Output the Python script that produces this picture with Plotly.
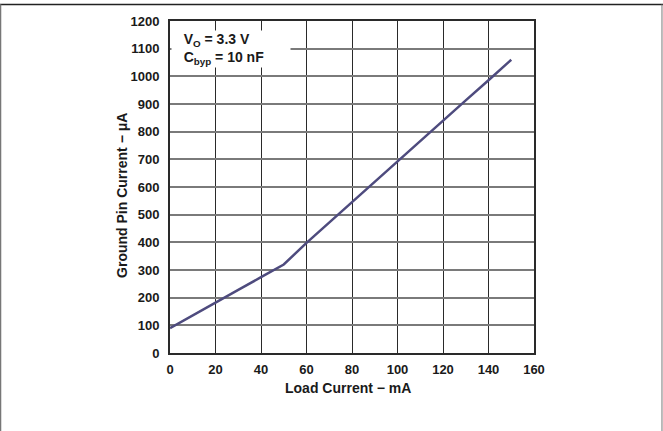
import plotly.graph_objects as go

# Ground pin current vs load current
load_current = [0, 10, 20, 30, 40, 50, 60, 70, 80, 90, 100, 110, 120, 130, 140, 150]
ground_current = [90, 135, 182, 228, 274, 320, 398, 472, 545, 618, 692, 766, 840, 913, 986, 1060]

x_ticks = [0, 20, 40, 60, 80, 100, 120, 140, 160]
y_ticks = [0, 100, 200, 300, 400, 500, 600, 700, 800, 900, 1000, 1100, 1200]

line_col = "#4e4b7e"
text_col = "#1a1a1a"
font_family = "Liberation Sans, Arial, sans-serif"
title_font = {"size": 14, "color": text_col, "family": font_family, "weight": "bold"}

fig = go.Figure()

fig.add_trace(
    go.Scatter(
        x=load_current,
        y=ground_current,
        mode="lines",
        showlegend=False,
        hoverinfo="skip",
        line={"color": line_col, "width": 2.5},
    )
)

fig.update_xaxes(
    range=[0, 160],
    tickvals=x_ticks,
    showgrid=True,
    gridcolor="#2a2a2a",
    gridwidth=1.3,
    showline=True,
    linecolor="#2a2a2a",
    linewidth=2,
    mirror=True,
    zeroline=False,
    ticks="",
    ticklabelstandoff=3,
    tickfont={"size": 13, "color": text_col, "family": font_family, "weight": "bold"},
)
fig.update_yaxes(
    range=[0, 1200],
    tickvals=y_ticks,
    showgrid=True,
    gridcolor="#7a7a7a",
    gridwidth=2,
    showline=True,
    linecolor="#2a2a2a",
    linewidth=2,
    mirror=True,
    zeroline=False,
    ticks="",
    ticklabelstandoff=6,
    tickfont={"size": 13, "color": text_col, "family": font_family, "weight": "bold"},
)

# axis titles (placed as annotations, slightly off-centre like the datasheet)
fig.add_annotation(
    x=0.489, y=-0.105, xref="paper", yref="paper",
    xanchor="center", yanchor="middle",
    showarrow=False, text="Load Current − mA", font=title_font,
)
fig.add_annotation(
    x=-0.132, y=0.476, xref="paper", yref="paper",
    xanchor="center", yanchor="middle",
    showarrow=False, textangle=-90, text="Ground Pin Current − μA", font=title_font,
)

fig.add_annotation(
    x=0.003,
    y=0.973,
    xref="paper",
    yref="paper",
    xanchor="left",
    yanchor="top",
    align="left",
    showarrow=False,
    text="&nbsp;&nbsp;&nbsp;V<sub>O</sub> = 3.3 V<br>&nbsp;&nbsp;&nbsp;C<sub>byp</sub> = 10 nF",
    font={"size": 14, "color": text_col, "family": font_family, "weight": "bold"},
    bgcolor="white",
    width=118,
    borderpad=0,
)

# page frame around the figure
fig.add_shape(
    type="rect", xref="paper", yref="paper",
    x0=-0.47, x1=1.36, y0=1.0475, y1=1.052,
    fillcolor="#222222", line={"width": 0},
)
fig.add_shape(
    type="line", xref="paper", yref="paper",
    x0=-0.4656, x1=-0.4656, y0=1.0503, y1=-0.3,
    line={"color": "#777777", "width": 1.5},
)
fig.add_shape(
    type="line", xref="paper", yref="paper",
    x0=1.3516, x1=1.3516, y0=1.0503, y1=-0.3,
    line={"color": "#777777", "width": 1},
)

fig.update_layout(
    width=663,
    height=431,
    plot_bgcolor="white",
    paper_bgcolor="white",
    margin={"l": 170, "r": 129, "t": 21, "b": 78},
)

fig.write_html(
    "out.html",
    config={"displayModeBar": False},
    post_script="document.body.style.margin = '0px';",
)
